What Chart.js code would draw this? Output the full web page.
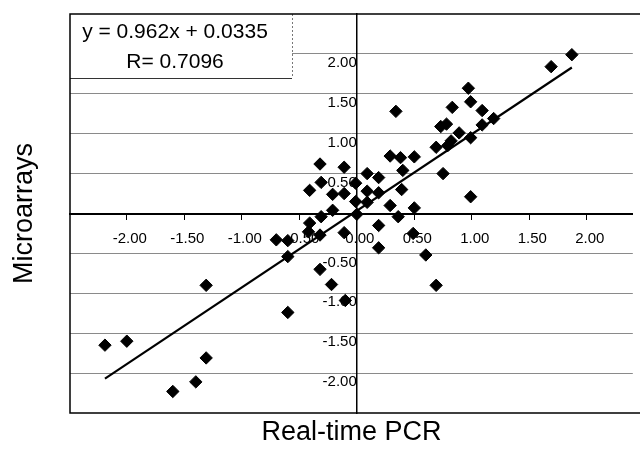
<!DOCTYPE html>
<html><head><meta charset="utf-8">
<script src="https://cdn.jsdelivr.net/npm/chart.js@4.4.1/dist/chart.umd.min.js"></script>
<style>html,body{margin:0;padding:0;background:#fff;overflow:hidden}canvas{display:block}</style>
</head><body>
<canvas id="c" width="640" height="460"></canvas>
<script>
// Real-time PCR (x) vs Microarrays (y)
const pcrValues = [1.87, 1.69, 0.97, 0.99, 1.09, 0.83, 0.34, 1.19, 1.09, 0.73, 0.78, 0.89, 0.99, 0.82, 0.79, 0.69,
  0.29, 0.38, 0.50, 0.40, 0.75, 0.99, 0.39, 0.50, 0.29, 0.36, 0.49, 0.60, 0.69, 0.19, 0.19, -0.11,
  -0.32, -0.22, -0.10, -0.32, -0.11, 0.09, 0.19, -0.01, -0.31, -0.41, -0.21, -0.11, 0.09, 0.19, -0.01, 0.09,
  -0.21, 0.00, -0.31, -0.41, -0.42, -0.32, -0.70, -0.60, -0.60, -1.31, -0.60, -2.19, -2.00, -1.31, -1.40, -1.60];
const microarrayValues = [1.99, 1.84, 1.57, 1.40, 1.29, 1.33, 1.28, 1.19, 1.11, 1.09, 1.12, 1.01, 0.95, 0.91, 0.85, 0.83,
  0.72, 0.70, 0.71, 0.54, 0.50, 0.21, 0.30, 0.07, 0.10, -0.04, -0.25, -0.52, -0.90, -0.15, -0.43, -0.24,
  -0.70, -0.89, -1.09, 0.62, 0.58, 0.50, 0.45, 0.38, 0.39, 0.29, 0.24, 0.25, 0.28, 0.26, 0.15, 0.14,
  0.04, -0.01, -0.04, -0.12, -0.23, -0.27, -0.33, -0.34, -0.54, -0.90, -1.24, -1.65, -1.60, -1.81, -2.11, -2.23];
const trendX = [-2.19, 1.87];
const trendY = [-2.07, 1.83];
const xTickValues = [-2, -1.5, -1, -0.5, 0, 0.5, 1, 1.5, 2];
const yTickValues = [-2, -1.5, -1, -0.5, 0, 0.5, 1, 1.5, 2];
const equationText = 'y = 0.962x + 0.0335';
const rText = 'R= 0.7096';
const xTitle = 'Real-time PCR';
const yTitle = 'Microarrays';

const FONT = '"Liberation Sans", Arial, sans-serif';
const points = pcrValues.map((x, i) => ({x: x, y: microarrayValues[i]}));
const trend = trendX.map((x, i) => ({x: x, y: trendY[i]}));

const framePlugin = {
  id: 'frame',
  beforeDatasetsDraw(chart) {
    const {ctx, chartArea: a} = chart;
    ctx.save();
    const bw = 222, bh = 64;
    ctx.fillStyle = '#fff';
    ctx.fillRect(a.left, a.top, bw, bh);
    ctx.lineWidth = 1;
    ctx.strokeStyle = '#777';
    ctx.setLineDash([2, 2]);
    ctx.beginPath(); ctx.moveTo(a.left + bw + 0.5, a.top); ctx.lineTo(a.left + bw + 0.5, a.top + bh); ctx.stroke();
    ctx.setLineDash([]);
    ctx.strokeStyle = '#333';
    ctx.beginPath(); ctx.moveTo(a.left, a.top + bh + 0.5); ctx.lineTo(a.left + bw, a.top + bh + 0.5); ctx.stroke();
    ctx.fillStyle = '#000';
    ctx.font = '21px ' + FONT;
    ctx.textAlign = 'center'; ctx.textBaseline = 'middle';
    ctx.fillText(equationText, a.left + 105, a.top + 18);
    ctx.fillText(rText, a.left + 105, a.top + 48);
    ctx.strokeStyle = '#000'; ctx.lineWidth = 1.5;
    ctx.beginPath();
    ctx.moveTo(chart.width, a.top); ctx.lineTo(a.left, a.top); ctx.lineTo(a.left, a.bottom); ctx.lineTo(chart.width, a.bottom);
    ctx.stroke();
    ctx.restore();
  }
};

new Chart(document.getElementById('c'), {
  type: 'scatter',
  data: {
    datasets: [
      {data: points, pointStyle: 'rectRot', pointRadius: 6.2, pointBackgroundColor: '#000', pointBorderColor: '#000', pointBorderWidth: 1, showLine: false},
      {data: trend, showLine: true, pointRadius: 0, borderColor: '#000', borderWidth: 2.2, fill: false}
    ]
  },
  options: {
    responsive: false,
    animation: false,
    events: [],
    layout: {padding: {left: 0, right: 0, top: 13, bottom: 0}},
    plugins: {
      legend: {display: false},
      tooltip: {enabled: false},
      title: {display: true, fullSize: false, text: yTitle, position: 'left', color: '#000', font: {family: FONT, size: 27, weight: 'normal'}, padding: {top: 8.8, bottom: 28.8}},
      subtitle: {display: true, fullSize: false, text: xTitle, position: 'bottom', color: '#000', font: {family: FONT, size: 27, weight: 'normal'}, padding: {top: 3.8, bottom: 10.8}}
    },
    scales: {
      x: {
        type: 'linear', min: -2.494, max: 2.4,
        position: {y: 0},
        afterBuildTicks: (s) => { s.ticks = xTickValues.map(v => ({value: v})); },
        ticks: {color: '#000', font: {family: FONT, size: 15}, padding: 11, labelOffset: 3, maxRotation: 0, autoSkip: false,
          callback: (v) => Number(v).toFixed(2)},
        grid: {display: true, drawOnChartArea: false, drawTicks: true, tickLength: 5, color: '#000', lineWidth: 1},
        border: {display: true, color: '#000', width: 2}
      },
      y: {
        type: 'linear', min: -2.5, max: 2.5,
        position: {x: 0},
        afterBuildTicks: (s) => { s.ticks = yTickValues.map(v => ({value: v})); },
        ticks: {color: '#000', font: {family: FONT, size: 15}, padding: 5, labelOffset: 9, autoSkip: false,
          callback: (v) => Number(v) === 0 ? '' : Number(v).toFixed(2)},
        grid: {display: true, drawOnChartArea: true, drawTicks: false, color: '#8a8a8a', lineWidth: 1},
        border: {display: true, color: '#000', width: 1.5}
      }
    }
  },
  plugins: [framePlugin]
});
</script>
</body></html>
